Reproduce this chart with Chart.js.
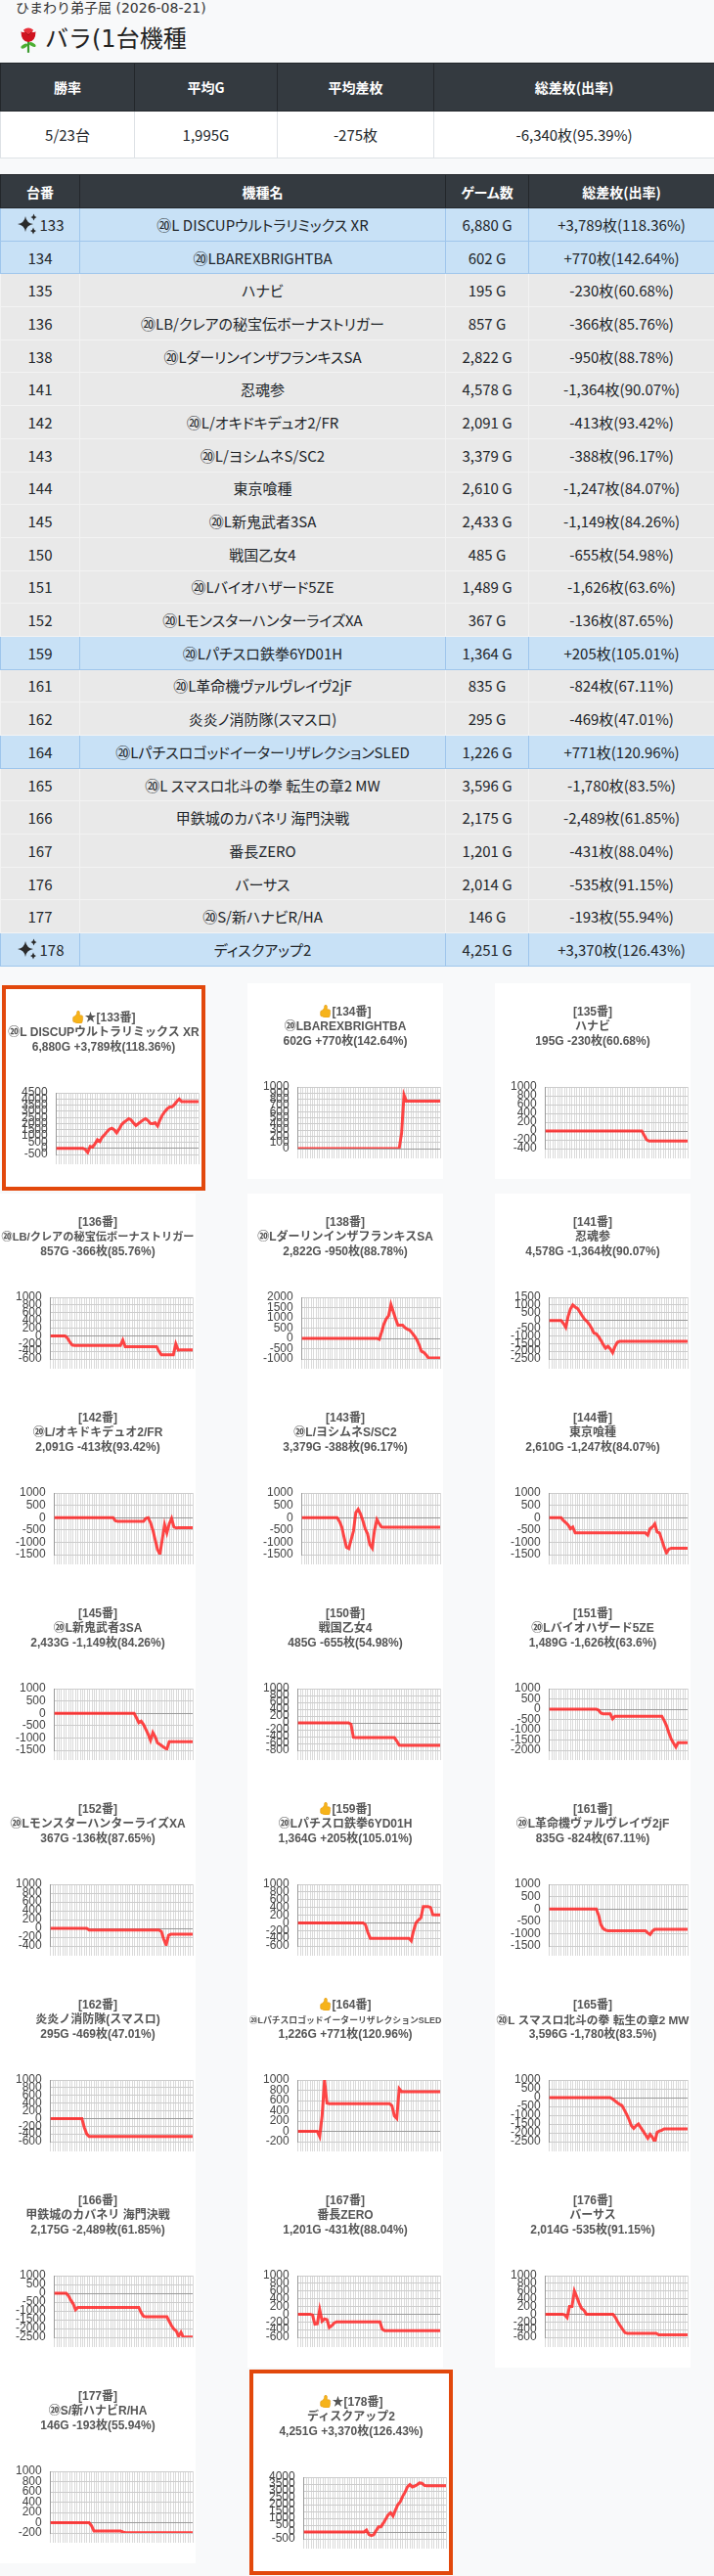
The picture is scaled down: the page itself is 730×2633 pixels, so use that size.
<!DOCTYPE html>
<html lang="ja">
<head>
<meta charset="utf-8">
<script src="https://cdn.jsdelivr.net/npm/chart.js"></script>
<style>
html,body{margin:0;padding:0}
body{width:730px;height:2633px;overflow:hidden;background:#f8f9fa;position:relative;font-family:"Noto Sans CJK JP","Noto Sans",sans-serif;color:#212529;font-feature-settings:"palt"}
.shop{position:absolute;left:16px;top:0;font-family:"DejaVu Sans","Noto Sans CJK JP",sans-serif;font-feature-settings:normal;font-size:14px;line-height:17px;color:#333;white-space:nowrap}
.head{position:absolute;left:19px;top:25px;font-family:"DejaVu Sans","Noto Sans CJK JP",sans-serif;font-feature-settings:normal;font-size:24px;line-height:30px;color:#222;display:flex;align-items:center;white-space:nowrap}
.head svg{margin-right:7px}
table{position:absolute;left:0;width:730px;border-collapse:collapse;table-layout:fixed}
th,td{padding:0;text-align:center;vertical-align:middle;white-space:nowrap;overflow:hidden}
#sum{top:64px}
#sum thead tr{height:49px}
#sum tbody tr{height:48px}
#sum th{background:#343a40;color:#fff;font-size:14px;font-weight:bold;border:1px solid #23272b}
#sum td{background:#fff;font-size:15px;border:1px solid #dee2e6}
#list{top:178px}
#list thead tr{height:34px}
#list tbody tr{height:33.7px}
#list th{background:#343a40;color:#fff;font-size:14px;font-weight:bold;border:1px solid #23272b}
#list td{font-size:15px}
#list tr.pos td{background:#c8e1f6;border:1px solid #9fc6ec}
#list tr.neg td{background:#e9e9e9;border:1px solid #f3f3f3}
.spark{display:inline-block;vertical-align:-4px;margin-right:2px}
#grid{position:absolute;top:1005px;left:0;display:grid;grid-template-columns:253px 253px 224px;align-items:start}
.card{width:200px;height:200px;background:#fff;position:relative}
.card.hot{margin:2px 0 3px 2px;border:4px solid #e2480c;height:202px}
.card canvas{position:absolute;left:0;top:0}
.ct{position:absolute;left:0;top:22px;width:200px;text-align:center;font:bold 12px/15px "Liberation Sans","Noto Sans CJK JP",sans-serif;color:#555;z-index:2}
.ct div{white-space:nowrap;height:15px}
.ct svg{vertical-align:-2px}
</style>
</head>
<body>
<div class="shop">ひまわり弟子屈 (2026-08-21)</div>
<div class="head"><svg width="20" height="27" viewBox="0 0 24 32"><path d="M12 17 L12 32" stroke="#3c9a2e" stroke-width="2.6"/><ellipse cx="7" cy="24" rx="4.5" ry="2.2" fill="#4caf32" transform="rotate(-30 7 24)"/><ellipse cx="17" cy="22" rx="4.5" ry="2.2" fill="#4caf32" transform="rotate(30 17 22)"/><path d="M3 6 Q3 18 12 19 Q21 18 21 6 Q16 9 12 4 Q8 9 3 6Z" fill="#d0121f"/><path d="M6 4 Q12 -1 18 4 Q16 10 12 10 Q8 10 6 4Z" fill="#e8303a"/><path d="M8.5 7 Q12 13 15.5 7" stroke="#8e0810" stroke-width="1" fill="none"/></svg><span>バラ(1台機種</span></div>
<table id="sum"><colgroup><col style="width:137px"><col style="width:146px"><col style="width:160px"><col style="width:287px"></colgroup><thead><tr id="sumHead"></tr></thead><tbody><tr id="sumBody"></tr></tbody></table>
<table id="list"><colgroup><col style="width:81px"><col style="width:374px"><col style="width:85px"><col style="width:190px"></colgroup><thead><tr id="listHead"></tr></thead><tbody id="listBody"></tbody></table>
<div id="grid"></div>
<script>
const summaryHeads = ['勝率','平均G','平均差枚','総差枚(出率)'];
const summaryVals = ['5/23台','1,995G','-275枚','-6,340枚(95.39%)'];
const listHeads = ['台番','機種名','ゲーム数','総差枚(出率)'];

const units = [133,134,135,136,138,141,142,143,144,145,150,151,152,159,161,162,164,165,166,167,176,177,178];
const machineNames = ['⑳L DISCUPウルトラリミックス XR','⑳LBAREXBRIGHTBA','ハナビ','⑳LB/クレアの秘宝伝ボーナストリガー','⑳LダーリンインザフランキスSA','忍魂参','⑳L/オキドキデュオ2/FR','⑳L/ヨシムネS/SC2','東京喰種','⑳L新鬼武者3SA','戦国乙女4','⑳Lバイオハザード5ZE','⑳LモンスターハンターライズXA','⑳Lパチスロ鉄拳6YD01H','⑳L革命機ヴァルヴレイヴ2jF','炎炎ノ消防隊(スマスロ)','⑳LパチスロゴッドイーターリザレクションSLED','⑳L スマスロ北斗の拳 転生の章2 MW','甲鉄城のカバネリ 海門決戦','番長ZERO','バーサス','⑳S/新ハナビR/HA','ディスクアップ2'];
const gameCounts = [6880,602,195,857,2822,4578,2091,3379,2610,2433,485,1489,367,1364,835,295,1226,3596,2175,1201,2014,146,4251];
const diffTotals = [3789,770,-230,-366,-950,-1364,-413,-388,-1247,-1149,-655,-1626,-136,205,-824,-469,771,-1780,-2489,-431,-535,-193,3370];
const payoutRates = ['118.36','142.64','60.68','85.76','88.78','90.07','93.42','96.17','84.07','84.26','54.98','63.6','87.65','105.01','67.11','47.01','120.96','83.5','61.85','88.04','91.15','55.94','126.43'];
const thumbUnits = [133,134,159,164,178];
const starUnits = [133,178];

const yTop    = [4500,1000,1000,1000,2000,1500,1000,1000,1000,1000,1000,1000,1000,1000,1000,1000,1000,1000,1000,1000,1000,1000,4000];
const yBottom = [-500,0,-400,-600,-1000,-2500,-1500,-1500,-1500,-1500,-800,-2000,-400,-600,-1500,-600,-200,-2500,-2500,-600,-600,-200,-500];
const yStep   = [500,100,200,200,500,500,500,500,500,500,200,500,200,200,500,200,200,500,500,200,200,200,500];

const s133 = [0,0,0,0,0,0,0,0,0,0,
0,0,-100,-340,150,100,350,700,550,900,
1100,1350,1550,1630,1500,1250,1550,1900,2100,2250,
2400,2300,2050,1850,2000,2150,2300,2400,2250,2020,
2000,2070,1810,2300,2700,2980,3200,3350,3370,3550,
3800,4000,3790,3789,3789,3789,3789,3789,3789,3789];
const s134 = [0,0,0,0,0,0,0,0,0,0,
0,0,0,0,0,0,0,0,0,0,
0,0,0,0,0,0,0,0,0,0,
0,0,0,0,0,0,0,0,0,0,
0,0,0,250,870,770,770,770,770,770,
770,770,770,770,770,770,770,770,770,770];
const s135 = [0,0,0,0,0,0,0,0,0,0,
0,0,0,0,0,0,0,0,0,0,
0,0,0,0,0,0,0,0,0,0,
0,0,0,0,0,0,0,0,0,0,
0,-100,-200,-230,-230,-230,-230,-230,-230,-230,
-230,-230,-230,-230,-230,-230,-230,-230,-230,-230];
const s136 = [0,0,0,0,0,0,0,-60,-160,-240,
-250,-250,-250,-250,-250,-250,-250,-250,-250,-250,
-250,-250,-250,-250,-250,-250,-250,-250,-250,-250,
-110,-280,-280,-280,-280,-280,-280,-280,-280,-280,
-280,-280,-280,-280,-280,-400,-490,-490,-490,-490,
-490,-490,-210,-370,-366,-366,-366,-366,-366,-366];
const s138 = [0,0,0,0,0,0,0,0,0,0,
0,0,0,0,0,0,0,0,0,0,
0,0,0,0,0,0,0,0,0,0,
0,0,0,-50,300,700,950,1100,1650,1300,
950,640,640,640,520,450,400,270,120,-60,
-300,-630,-680,-800,-950,-950,-950,-950,-950,-950];
const s141 = [0,0,0,0,0,0,-200,-450,250,750,
1000,870,780,550,300,80,-60,-250,-500,-820,
-870,-1050,-1300,-1570,-1800,-1680,-1850,-2100,-1700,-1420,
-1364,-1364,-1364,-1364,-1364,-1364,-1364,-1364,-1364,-1364,
-1364,-1364,-1364,-1364,-1364,-1364,-1364,-1364,-1364,-1364,
-1364,-1364,-1364,-1364,-1364,-1364,-1364,-1364,-1364,-1364];
const s142 = [0,0,0,0,0,0,0,0,0,0,
0,0,0,0,0,0,0,0,0,0,
0,0,0,0,0,0,-130,-150,-150,-150,
-150,-150,-150,-150,-150,-150,-150,-150,-150,-30,
0,-200,-500,-900,-1300,-1480,-900,-280,-620,-250,
-30,-380,-420,-413,-413,-413,-413,-413,-413,-413];
const s143 = [0,0,0,0,0,0,0,0,0,0,
0,0,0,0,0,0,-150,-380,-800,-1200,
-1250,-900,-550,200,340,150,-120,-450,-650,-1100,
-1240,-500,-80,-250,-380,-388,-388,-388,-388,-388,
-388,-388,-388,-388,-388,-388,-388,-388,-388,-388,
-388,-388,-388,-388,-388,-388,-388,-388,-388,-388];
const s144 = [0,0,0,0,0,0,-120,-200,-300,-450,
-380,-620,-620,-620,-620,-620,-620,-620,-620,-620,
-620,-620,-620,-620,-620,-620,-620,-620,-620,-620,
-620,-620,-620,-620,-620,-620,-620,-620,-620,-620,
-620,-620,-710,-450,-380,-250,-580,-620,-900,-1200,
-1430,-1280,-1247,-1247,-1247,-1247,-1247,-1247,-1247,-1247];
const s145 = [0,0,0,0,0,0,0,0,0,0,
0,0,0,0,0,0,0,0,0,0,
0,0,0,0,0,0,0,0,0,0,
0,0,0,0,0,-180,-380,-320,-450,-650,
-850,-1100,-780,-950,-1200,-1260,-1330,-1400,-1450,-1149,
-1149,-1149,-1149,-1149,-1149,-1149,-1149,-1149,-1149,-1149];
const s150 = [0,0,0,0,0,0,0,0,0,0,
0,0,0,0,0,0,0,0,0,0,
0,0,-40,-420,-430,-430,-430,-430,-430,-430,
-430,-430,-430,-430,-430,-430,-430,-430,-430,-430,
-430,-530,-650,-655,-655,-655,-655,-655,-655,-655,
-655,-655,-655,-655,-655,-655,-655,-655,-655,-655];
const s151 = [0,0,0,0,0,0,0,0,0,0,
0,0,0,0,0,0,0,0,0,0,
0,-50,-190,-230,-230,-230,-230,-470,-340,-340,
-340,-340,-340,-340,-340,-340,-340,-340,-340,-340,
-340,-340,-340,-340,-340,-340,-340,-340,-340,-550,
-800,-1150,-1450,-1650,-1840,-1626,-1626,-1626,-1626,-1626];
const s152 = [0,0,0,0,0,0,0,0,0,0,
0,0,0,0,0,0,-40,-40,-40,-40,
-40,-40,-40,-40,-40,-40,-40,-40,-40,-40,
-40,-40,-40,-40,-40,-40,-40,-40,-40,-40,
-40,-40,-40,-40,-40,-40,-70,-250,-380,-160,
-136,-136,-136,-136,-136,-136,-136,-136,-136,-136];
const s159 = [0,0,0,0,0,0,0,0,0,0,
0,0,0,0,0,0,0,0,0,0,
0,0,0,0,0,0,0,0,-50,-250,
-400,-400,-400,-400,-400,-400,-400,-400,-400,-400,
-400,-400,-400,-400,-400,-400,-400,-470,-200,0,
70,130,420,420,420,400,210,205,205,205];
const s161 = [0,0,0,0,0,0,0,0,0,0,
0,0,0,0,0,0,0,0,0,0,
0,-250,-640,-800,-860,-880,-880,-880,-880,-880,
-880,-880,-880,-880,-880,-880,-880,-880,-880,-880,
-880,-880,-970,-1040,-900,-824,-824,-824,-824,-824,
-824,-824,-824,-824,-824,-824,-824,-824,-824,-824];
const s162 = [0,0,0,0,0,0,0,0,0,0,
0,0,0,0,-230,-400,-469,-469,-469,-469,
-469,-469,-469,-469,-469,-469,-469,-469,-469,-469,
-469,-469,-469,-469,-469,-469,-469,-469,-469,-469,
-469,-469,-469,-469,-469,-469,-469,-469,-469,-469,
-469,-469,-469,-469,-469,-469,-469,-469,-469,-469];
const s164 = [0,0,0,0,0,0,0,0,0,-100,
300,1000,550,540,540,540,540,540,540,540,
540,540,540,540,540,540,540,540,540,540,
540,540,540,540,540,540,540,540,540,500,
300,250,830,771,771,771,771,771,771,771,
771,771,771,771,771,771,771,771,771,771];
const s165 = [0,0,0,0,0,0,0,0,0,0,
0,0,0,0,0,0,0,0,0,0,
0,0,0,0,0,0,0,-80,-180,-290,
-380,-450,-700,-950,-1250,-1600,-1750,-1600,-1500,-1700,
-1900,-2100,-2310,-2090,-2250,-2540,-1970,-1900,-1850,-1780,
-1780,-1780,-1780,-1780,-1780,-1780,-1780,-1780,-1780,-1780];
const s166 = [0,0,0,0,0,0,-150,-400,-600,-930,
-800,-800,-800,-800,-800,-800,-800,-800,-800,-800,
-800,-800,-800,-800,-800,-800,-800,-800,-800,-800,
-800,-800,-800,-800,-800,-800,-800,-1100,-1300,-1340,
-1340,-1340,-1340,-1340,-1340,-1340,-1340,-1340,-1340,-1600,
-1850,-2040,-2150,-2445,-2220,-2500,-2489,-2489,-2489,-2489];
const s167 = [0,0,0,0,0,0,-20,-260,-250,120,
-180,-120,-140,-345,-300,-230,-200,-200,-200,-200,
-200,-200,-200,-200,-200,-200,-200,-200,-200,-200,
-200,-200,-200,-200,-200,-390,-431,-431,-431,-431,
-431,-431,-431,-431,-431,-431,-431,-431,-431,-431,
-431,-431,-431,-431,-431,-431,-431,-431,-431,-431];
const s176 = [0,0,0,0,0,0,0,0,-20,-90,
200,200,600,450,280,150,100,0,0,0,
0,0,0,0,0,0,0,0,0,-80,
-200,-300,-390,-480,-500,-500,-500,-500,-500,-500,
-500,-500,-500,-500,-500,-500,-500,-535,-535,-535,
-535,-535,-535,-535,-535,-535,-535,-535,-535,-535];
const s177 = [0,0,0,0,0,0,0,0,0,0,
0,0,0,0,0,0,0,-60,-160,-160,
-160,-160,-160,-160,-160,-160,-160,-160,-160,-160,
-180,-193,-193,-193,-193,-193,-193,-193,-193,-193,
-193,-193,-193,-193,-193,-193,-193,-193,-193,-193,
-193,-193,-193,-193,-193,-193,-193,-193,-193,-193];
const s178 = [0,0,0,0,0,0,0,0,0,0,
0,0,0,0,0,0,0,0,0,0,
0,0,0,0,0,0,140,-190,-260,-200,
100,380,380,650,950,1250,1400,1160,1600,1990,
2200,2600,2900,3290,3460,3290,3350,3450,3580,3560,
3400,3370,3370,3370,3370,3370,3370,3370,3370,3370];

const seriesList = [s133,s134,s135,s136,s138,s141,s142,s143,s144,s145,s150,s151,s152,s159,s161,s162,s164,s165,s166,s167,s176,s177,s178];
const xSlots = s133.map(() => '');

const fmt = n => n.toLocaleString('en-US');
const sgn = n => (n > 0 ? '+' : '') + fmt(n);

const sparkSvg = '<svg class="spark" width="22" height="22" viewBox="0 0 22 22"><path d="M9 3 Q10 10 17 11 Q10 12 9 19 Q8 12 1 11 Q8 10 9 3Z" fill="#2b2b2b"/><path d="M17.5 0.5 Q18 3.5 20.5 4 Q18 4.5 17.5 7.5 Q17 4.5 14.5 4 Q17 3.5 17.5 0.5Z" fill="#2b2b2b"/><path d="M17 14.5 Q17.5 17.5 20 18 Q17.5 18.5 17 21.5 Q16.5 18.5 14 18 Q16.5 17.5 17 14.5Z" fill="#2b2b2b"/></svg>';
const thumbSvg = '<svg width="13" height="13" viewBox="0 0 16 16"><path fill="#f6b31a" stroke="#d98a00" stroke-width="0.6" d="M6.956 1.745C7.021.81 7.908.087 8.864.325l.261.066c.463.116.874.456 1.012.965.22.816.533 2.511.062 4.51a10 10 0 0 1 .443-.051c.713-.065 1.669-.072 2.516.21.518.173.994.681 1.2 1.273.184.532.16 1.162-.234 1.733q.086.18.138.363c.077.27.113.567.113.856s-.036.586-.113.856c-.039.135-.09.273-.16.404.169.387.107.819-.003 1.148a3.2 3.2 0 0 1-.488.901c.054.152.076.312.076.465 0 .305-.089.625-.253.912C13.1 15.522 12.437 16 11.5 16H8c-.605 0-1.070-.081-1.466-.218a4.8 4.8 0 0 1-.97-.484l-.048-.03c-.504-.307-.999-.609-2.068-.722C2.682 14.464 2 13.846 2 13V9c0-.85.685-1.432 1.357-1.615.849-.232 1.574-.787 2.132-1.41.56-.627.914-1.28 1.039-1.639.199-.575.356-1.539.428-2.59z"/></svg>';

document.getElementById('sumHead').innerHTML = summaryHeads.map(h => '<th>' + h + '</th>').join('');
document.getElementById('sumBody').innerHTML = summaryVals.map(v => '<td>' + v + '</td>').join('');
document.getElementById('listHead').innerHTML = listHeads.map(h => '<th>' + h + '</th>').join('');
document.getElementById('listBody').innerHTML = units.map((u, k) => {
  const cls = diffTotals[k] > 0 ? 'pos' : 'neg';
  const unitCell = (starUnits.includes(u) ? sparkSvg : '') + u;
  return '<tr class="' + cls + '"><td>' + unitCell + '</td><td>' + machineNames[k] + '</td><td>' +
    fmt(gameCounts[k]) + ' G</td><td>' + sgn(diffTotals[k]) + '枚(' + payoutRates[k] + '%)</td></tr>';
}).join('');

const grid = document.getElementById('grid');
units.forEach((u, k) => {
  const card = document.createElement('div');
  card.className = 'card' + (starUnits.includes(u) ? ' hot' : '');
  const line1 = (thumbUnits.includes(u) ? thumbSvg : '') + (starUnits.includes(u) ? '★' : '') + '[' + u + '番]';
  const line2 = machineNames[k];
  const line3 = fmt(gameCounts[k]) + 'G ' + sgn(diffTotals[k]) + '枚(' + payoutRates[k] + '%)';
  const ct = document.createElement('div');
  ct.className = 'ct';
  ct.innerHTML = '<div><span>' + line1 + '</span></div><div><span>' + line2 + '</span></div><div><span>' + line3 + '</span></div>';
  const cv = document.createElement('canvas');
  cv.width = 200; cv.height = 200;
  card.appendChild(cv);
  card.appendChild(ct);
  grid.appendChild(card);
  ct.querySelectorAll('span').forEach(sp => {
    const w = sp.getBoundingClientRect().width;
    if (w > 197) sp.style.fontSize = (12 * 197 / w).toFixed(2) + 'px';
  });
  const tickVals = [];
  for (let v = yTop[k]; v >= yBottom[k]; v -= yStep[k]) tickVals.push(v);
  new Chart(cv, {
    type: 'line',
    data: { labels: xSlots, datasets: [{ data: seriesList[k], borderColor: 'rgba(255,38,38,0.85)', borderWidth: 3, pointRadius: 0, tension: 0, fill: false }] },
    options: {
      responsive: false, animation: false, events: [],
      layout: { padding: { top: 106, left: 7, right: 3, bottom: 21 } },
      plugins: { legend: { display: false }, tooltip: { enabled: false } },
      scales: {
        x: { type: 'category', offset: false,
             ticks: { display: false, autoSkip: false },
             grid: { color: '#dadada', lineWidth: 1, drawTicks: true, tickLength: 10 },
             border: { display: false } },
        y: { min: yBottom[k], max: yTop[k],
             afterBuildTicks: s => { s.ticks = tickVals.map(v => ({ value: v })); },
             ticks: { color: '#444', padding: 9, autoSkip: false, callback: v => String(v),
                      font: { family: '"Liberation Sans", Arial, sans-serif', size: 12 } },
             grid: { drawTicks: false, color: c => (c.tick && c.tick.value === 0) ? '#9a9a9a' : '#cccccc' },
             border: { display: true, color: '#9a9a9a' } }
      }
    }
  });
});
</script>
</body>
</html>
